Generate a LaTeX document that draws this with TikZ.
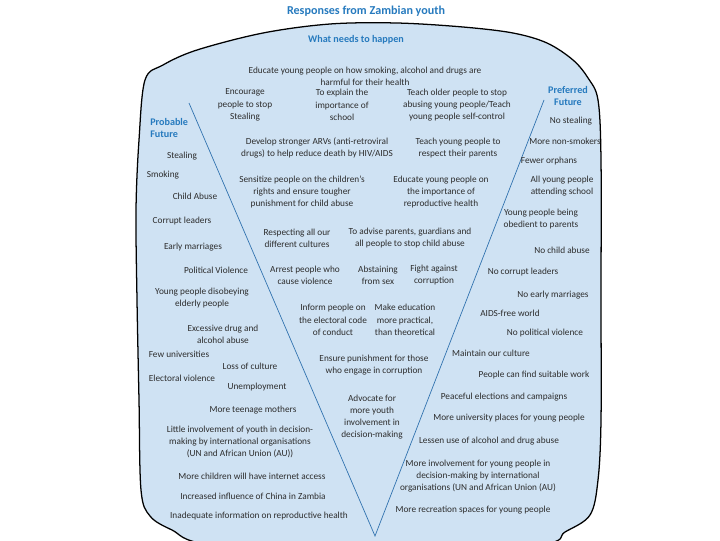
\documentclass[tikz,border=0pt]{standalone}
\usepackage{fontspec}
\setmainfont{Carlito}
\usepackage{tikz}
\definecolor{blob}{RGB}{207,226,243}
\definecolor{zblue}{RGB}{38,122,190}
\definecolor{vline}{RGB}{50,115,175}
\definecolor{ink}{RGB}{45,45,45}

\begin{document}
\begin{tikzpicture}[x=0.025cm, y=-0.025cm,
    txt/.style={align=center, inner sep=0pt, text=ink, font=\fontsize{6.6}{8.7}\selectfont},
    head/.style={align=center, inner sep=0pt, text=zblue, font=\bfseries\fontsize{7.2}{8.7}\selectfont}]
  \useasboundingbox (0,0) rectangle (720,540);

  % the blob
  \filldraw[fill=blob, draw=black, line width=0.9pt] plot[smooth cycle, tension=0.55] coordinates {
    (145,80) (163,65) (197,50) (263,33) (330,24) (397,23) (463,27) (513,33) (547,43)
    (573,60) (588,78) (598,100) (601,160) (601,300) (601,420) (598,480) (590,515)
    (565,532) (540,545) (375,562) (210,545) (172,530) (150,516) (141,490) (139,400)
    (137,300) (136,210) (139,140)};

  % the V
  \coordinate (vtl) at (189,103);
  \coordinate (vbot) at (375,536);
  \coordinate (vtr) at (544,100);
  \draw[vline, line width=0.5pt] (vtl) -- (vbot) -- (vtr);

  % headings
  \node[head, font=\bfseries\fontsize{8.6}{10}\selectfont] (title) at (366,11) {Responses from Zambian youth};
  \node[head] (needs) at (356,40) {What needs to happen};
  \node[head, align=left, anchor=west] (probable) at (150,128) {Probable\\Future};
  \node[head] (preferred) at (568,96) {Preferred\\Future};

  % what needs to happen
  \node[txt] (educate) at (365,76) {Educate young people on how smoking, alcohol and drugs are\\harmful for their health};
  \foreach \n/\x/\y/\t in {
      encourage/245/105/{Encourage\\people to stop\\Stealing},
      explain/342/105/{To explain the\\importance of\\school},
      olderppl/457/105/{Teach older people to stop\\abusing young people/Teach\\young people self-control},
      arvs/317/148/{Develop stronger ARVs (anti-retroviral\\drugs) to help reduce death by HIV/AIDS},
      respect/458/148/{Teach young people to\\respect their parents},
      sensitize/302/192/{Sensitize people on the children's\\rights and ensure tougher\\punishment for child abuse},
      reprod/441/192/{Educate young people on\\the importance of\\reproductive health},
      cultures/297/238/{Respecting all our\\different cultures},
      advise/410/238/{To advise parents, guardians and\\all people to stop child abuse},
      arrest/305/275/{Arrest people who\\cause violence},
      abstain/378/275/{Abstaining\\from sex},
      fight/434/275/{Fight against\\corruption},
      inform/333/320/{Inform people on\\the electoral code\\of conduct},
      practical/405/320/{Make education\\more practical,\\than theoretical},
      ensure/374/365/{Ensure punishment for those\\who engage in corruption},
      advocate/372/417/{Advocate for\\more youth\\involvement in\\decision-making}}
    \node[txt] (\n) at (\x,\y) {\t};

  % probable future
  \foreach \n/\x/\y/\t in {
      pstealing/182/156/{Stealing},
      psmoking/163/175/{Smoking},
      pabuse/195/196/{Child Abuse},
      pcorrupt/182/221/{Corrupt leaders},
      pmarriage/193/247/{Early marriages},
      pviolence/216/270/{Political Violence},
      pdisobey/202/298/{Young people disobeying\\elderly people},
      pdrug/223/334/{Excessive drug and\\alcohol abuse},
      puniv/179/354/{Few universities},
      pculture/250/366/{Loss of culture},
      pelect/182/378/{Electoral violence},
      pjobs/257/387/{Unemployment},
      pteen/253/410/{More teenage mothers},
      pinvolve/240/442/{Little involvement of youth in decision-\\making by international organisations\\(UN and African Union (AU))},
      pinternet/252/476/{More children will have internet access},
      pchina/253/496/{Increased influence of China in Zambia},
      pinfo/259/516/{Inadequate information on reproductive health}}
    \node[txt] (\n) at (\x,\y) {\t};

  % preferred future
  \foreach \n/\x/\y/\t in {
      fstealing/571/121/{No stealing},
      fsmokers/565/141/{More non-smokers},
      forphans/549/161/{Fewer orphans},
      fschool/562/186/{All young people\\attending school},
      fobey/541/219/{Young people being\\obedient to parents},
      fabuse/562/250/{No child abuse},
      fcorrupt/523/272/{No corrupt leaders},
      fmarriage/553/295/{No early marriages},
      faids/510/313/{AIDS-free world},
      fviolence/545/333/{No political violence},
      fculture/491/353/{Maintain our culture},
      fwork/534/375/{People can find suitable work},
      fpeace/504/397/{Peaceful elections and campaigns},
      funiv/509/418/{More university places for young people},
      falcohol/489/441/{Lessen use of alcohol and drug abuse},
      finvolve/478/476/{More involvement for young people in\\decision-making by international\\organisations (UN and African Union (AU)},
      frecreation/473/510/{More recreation spaces for young people}}
    \node[txt] (\n) at (\x,\y) {\t};
\end{tikzpicture}
\end{document}
